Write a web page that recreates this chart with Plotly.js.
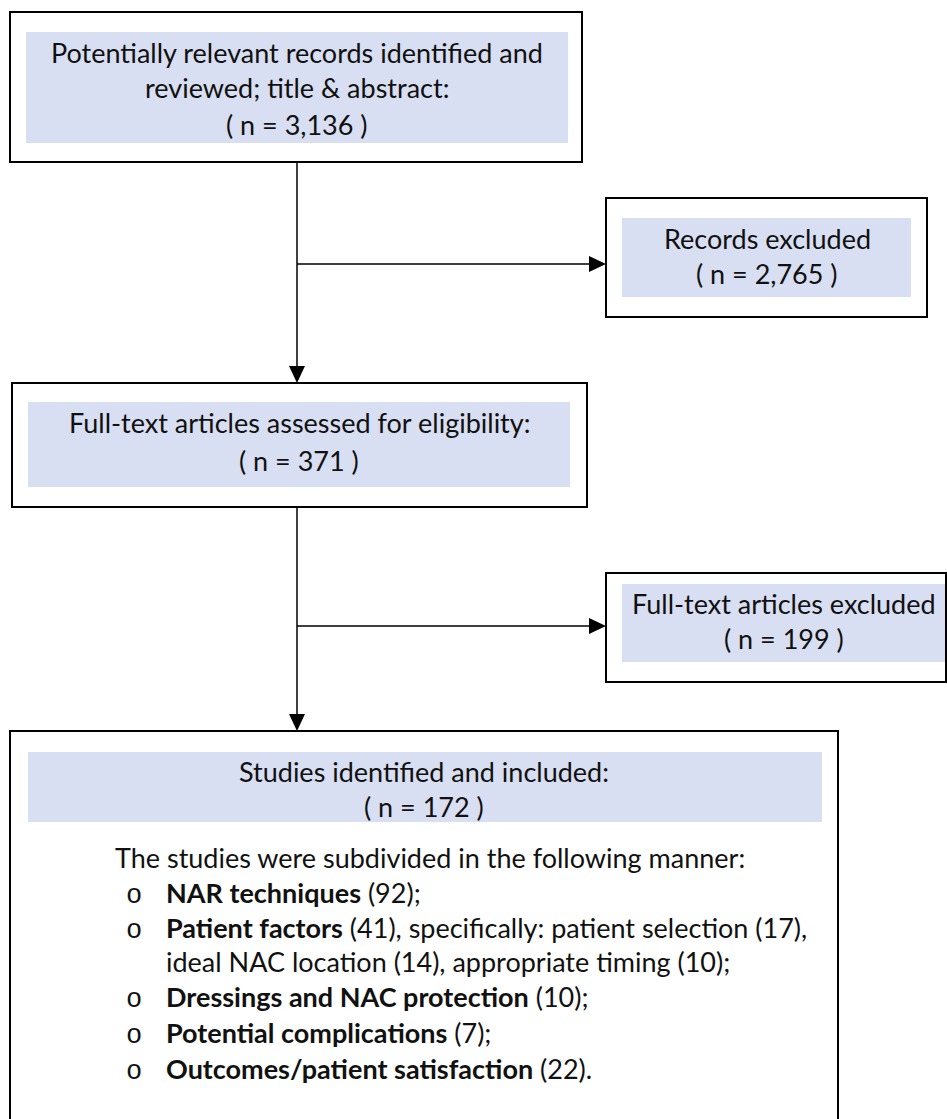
<!DOCTYPE html>
<html>
<head>
<meta charset="utf-8">
<script src="https://cdn.plot.ly/plotly-3.0.1.min.js"></script>
<style>html,body{margin:0;padding:0;background:#fff;}#chart{width:947px;height:1119px;}</style>
</head>
<body>
<div id="chart"></div>
<script>
// Data
const stageLabels = ["Potentially relevant records identified and", "reviewed; title & abstract:", "Records excluded", "Full-text articles assessed for eligibility:", "Full-text articles excluded", "Studies identified and included:"];
const stageCounts = ["3,136", "2,765", "371", "199", "172"];
const groupNames = ["NAR techniques", "Patient factors", "Dressings and NAC protection", "Potential complications", "Outcomes/patient satisfaction"];
const groupCounts = [92, 41, 10, 7, 22];
const subNames = ["patient selection", "ideal NAC location", "appropriate timing"];
const subCounts = [17, 14, 10];

const FONT = "Lato, 'Open Sans', sans-serif";
const FILL = "#d9dff2";
const SIZE = 27;
const shapes = [];
const annotations = [];

function box(x0, y0, x1, y1, ix0, iy0, ix1, iy1) {
  shapes.push({type:"rect", xref:"x", yref:"y", x0:ix0, y0:iy0, x1:ix1, y1:iy1, fillcolor:FILL, line:{width:0}, layer:"below"});
  shapes.push({type:"rect", xref:"x", yref:"y", x0:x0, y0:y0, x1:x1, y1:y1, fillcolor:"rgba(0,0,0,0)", line:{color:"#000", width:2}});
}
function line(x0, y0, x1, y1) {
  shapes.push({type:"line", xref:"x", yref:"y", x0:x0, y0:y0, x1:x1, y1:y1, line:{color:"#000", width:1.5}});
}
function arrowDown(x, y) {
  shapes.push({type:"path", xref:"x", yref:"y", path:`M ${x-8} ${y-17} L ${x+8} ${y-17} L ${x} ${y} Z`, fillcolor:"#000", line:{width:0}});
}
function arrowRight(x, y) {
  shapes.push({type:"path", xref:"x", yref:"y", path:`M ${x-17} ${y-8} L ${x-17} ${y+8} L ${x} ${y} Z`, fillcolor:"#000", line:{width:0}});
}
function text(x, y, t, anchor, size, family) {
  annotations.push({xref:"x", yref:"y", x:x, y:y, text:t, showarrow:false, xanchor:anchor||"center", yanchor:"middle", align:anchor==="left"?"left":"center", font:{family:family||FONT, size:size||SIZE, color:"#111"}});
}

// Boxes
box(10, 12, 582, 162, 26, 32, 568, 143);
box(606, 198, 927, 317, 622, 218, 911, 297);
box(12, 383, 587, 507, 28, 402, 570, 487);
box(606, 573, 946, 682, 622, 584, 946, 662);
box(10, 731, 838, 1130, 28, 752, 822, 822);

// Connectors
line(297, 162, 297, 368); arrowDown(297, 383);
line(297, 264, 592, 264); arrowRight(606, 264);
line(297, 507, 297, 716); arrowDown(297, 731);
line(297, 626, 592, 626); arrowRight(606, 626);

// Texts
text(297, 52, stageLabels[0]);
text(297, 87, stageLabels[1]);
text(297, 124, "( n = " + stageCounts[0] + " )");
text(767, 238, stageLabels[2]);
text(767, 273, "( n = " + stageCounts[1] + " )");
text(299, 422, stageLabels[3]);
text(299, 460, "( n = " + stageCounts[2] + " )");
text(784, 603, stageLabels[4]);
text(784, 638, "( n = " + stageCounts[3] + " )");
text(424, 771, stageLabels[5]);
text(424, 806, "( n = " + stageCounts[4] + " )");

text(113, 857, "The studies were subdivided in the following manner:", "left");
const bulletY = [892, 927, 996, 1032, 1068];
groupNames.forEach((g, i) => {
  text(134, bulletY[i] + 4, "o", "center", 27, "'Liberation Mono', monospace");
  let t = "<b>" + g + "</b> (" + groupCounts[i] + ")";
  if (i === 1) {
    t += ", specifically: " + subNames[0] + " (" + subCounts[0] + "),";
  } else {
    t += (i === groupNames.length - 1) ? "." : ";";
  }
  text(164, bulletY[i], t, "left");
});
text(164, 961, subNames[1] + " (" + subCounts[1] + "), " + subNames[2] + " (" + subCounts[2] + ");", "left");

const layout = {
  width: 947, height: 1119,
  margin: {l:0, r:0, t:0, b:0},
  paper_bgcolor: "#fff", plot_bgcolor: "#fff",
  xaxis: {range:[0, 947], visible:false, fixedrange:true},
  yaxis: {range:[1119, 0], visible:false, fixedrange:true},
  shapes: shapes,
  annotations: annotations,
  showlegend: false
};
Plotly.newPlot("chart", [], layout, {displayModeBar:false, staticPlot:true});
</script>
</body>
</html>
